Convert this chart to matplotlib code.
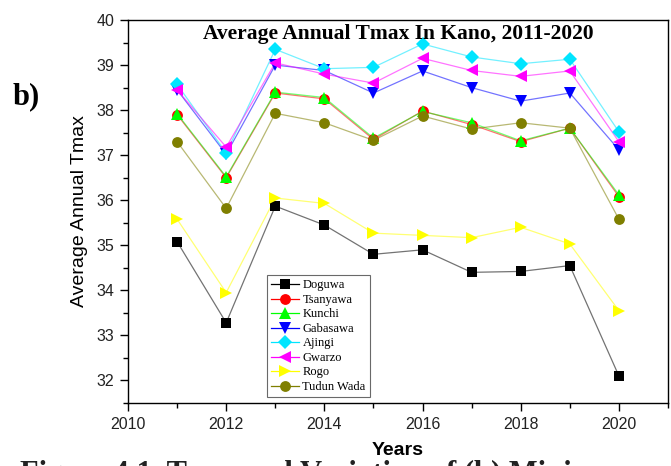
import matplotlib
matplotlib.use("Agg")
import matplotlib.pyplot as plt
from matplotlib.ticker import MultipleLocator

years = [2011, 2012, 2013, 2014, 2015, 2016, 2017, 2018, 2019, 2020]

doguwa = [35.08, 33.28, 35.87, 35.45, 34.80, 34.90, 34.40, 34.42, 34.55, 32.10]
tsanyawa = [37.90, 36.50, 38.38, 38.25, 37.35, 37.98, 37.68, 37.30, 37.60, 36.08]
kunchi = [37.92, 36.52, 38.40, 38.28, 37.38, 37.97, 37.72, 37.32, 37.60, 36.12]
gabasawa = [38.45, 37.02, 39.00, 38.88, 38.38, 38.87, 38.50, 38.20, 38.38, 37.12]
ajingi = [38.57, 37.05, 39.35, 38.92, 38.95, 39.47, 39.18, 39.03, 39.13, 37.52]
gwarzo = [38.45, 37.18, 39.05, 38.80, 38.60, 39.15, 38.88, 38.75, 38.87, 37.30]
rogo = [35.58, 33.95, 36.05, 35.93, 35.27, 35.22, 35.17, 35.40, 35.03, 33.55]
tudun_wada = [37.30, 35.82, 37.93, 37.72, 37.33, 37.87, 37.58, 37.72, 37.60, 35.58]

series = [
    ("Doguwa", doguwa, "#000000", "s"),
    ("Tsanyawa", tsanyawa, "#ff0000", "o"),
    ("Kunchi", kunchi, "#00ff00", "^"),
    ("Gabasawa", gabasawa, "#0000ff", "v"),
    ("Ajingi", ajingi, "#00e5ff", "D"),
    ("Gwarzo", gwarzo, "#ff00ff", "<"),
    ("Rogo", rogo, "#ffff00", ">"),
    ("Tudun Wada", tudun_wada, "#7f7f00", "o"),
]

fig = plt.figure(figsize=(6.71, 4.66), dpi=100)
ax = fig.add_axes([0.1908, 0.1352, 0.8047, 0.8218])

sizes = {"s": 7.2, "o": 7.8, "^": 8.2, "v": 8.2, "D": 6.8, "<": 8.2, ">": 8.2}
handles = []
for name, vals, color, mk in series:
    ax.plot(years, vals, color=color, lw=0.9, alpha=0.55, zorder=2)
    ax.plot(years, vals, linestyle="none", marker=mk, color=color,
            markersize=sizes[mk], markeredgewidth=0, zorder=3)
    h, = ax.plot([], [], color=color, lw=0.9, marker=mk,
                 markersize=sizes[mk], markeredgewidth=0, label=name)
    handles.append(h)

ax.set_xlim(2010, 2021)
ax.set_ylim(31.5, 40)
ax.xaxis.set_major_locator(MultipleLocator(2))
ax.xaxis.set_minor_locator(MultipleLocator(1))
ax.yaxis.set_major_locator(MultipleLocator(1))
ax.yaxis.set_minor_locator(MultipleLocator(0.5))
ax.tick_params(which="both", direction="out", labelsize=11.5, pad=4)
ax.tick_params(which="major", length=6, width=1)
ax.tick_params(which="minor", length=3.5, width=1)
for lbl in ax.get_xticklabels() + ax.get_yticklabels():
    lbl.set_fontfamily("Liberation Sans")
    lbl.set_color("#222222")
for s in ax.spines.values():
    s.set_linewidth(1.0)

ax.set_ylabel("Average Annual Tmax", fontsize=14, family="Liberation Sans", labelpad=6)
ax.set_xlabel("Years", fontsize=14, fontweight="bold", family="Liberation Sans", labelpad=7)

ax.text(0.5, 0.99, "Average Annual Tmax In Kano, 2011-2020", transform=ax.transAxes,
        ha="center", va="top", fontsize=15.5, fontweight="bold", family="Liberation Serif")

leg = ax.legend(handles=handles, loc="lower left", bbox_to_anchor=(0.257, 0.015),
                prop={"family": "Liberation Serif", "size": 9},
                frameon=True, fancybox=False, edgecolor="#444444",
                handlelength=2.2, handletextpad=0.3, labelspacing=0.2,
                borderpad=0.35, borderaxespad=0.0)
leg.get_frame().set_linewidth(0.8)

fig.text(0.018, 0.792, "b)", fontsize=22, fontweight="bold", family="Liberation Serif",
         ha="left", va="center")
fig.text(0.03, 0.012, "Figure 4.1  Temporal Variation of (b) Minimum", fontsize=22,
         fontweight="bold", family="Liberation Serif", ha="left", va="top", color="#222222")

fig.savefig("out.png", dpi=100)
